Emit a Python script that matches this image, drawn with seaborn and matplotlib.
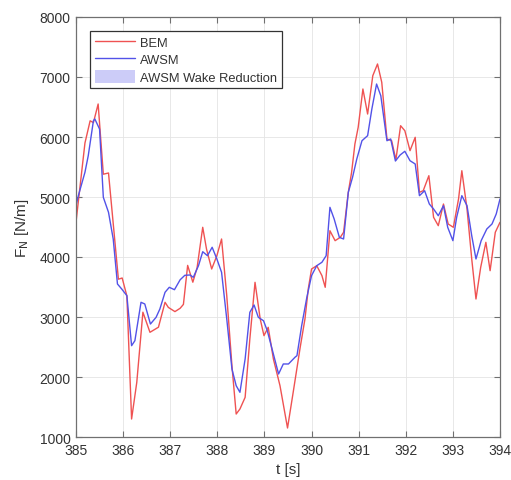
import numpy as np
import pandas as pd
import matplotlib
matplotlib.use("Agg")
import matplotlib.pyplot as plt
from matplotlib.patches import Patch
import seaborn as sns

# Normal force per unit span, BEM model
t_bem = [385.00, 385.19, 385.30, 385.37, 385.47, 385.58, 385.69, 385.90, 385.98, 386.08,
         386.18, 386.29, 386.42, 386.57, 386.75, 386.89, 386.96, 387.10, 387.21, 387.28,
         387.37, 387.48, 387.57, 387.69, 387.77, 387.88, 387.99, 388.09, 388.20, 388.31,
         388.40, 388.48, 388.59, 388.69, 388.80, 388.91, 388.99, 389.08, 389.19, 389.33,
         389.49, 389.61, 389.76, 389.86, 389.93, 390.00, 390.11, 390.22, 390.29, 390.39,
         390.50, 390.61, 390.68, 390.78, 390.85, 390.92, 390.99, 391.09, 391.19, 391.30,
         391.40, 391.49, 391.60, 391.70, 391.79, 391.89, 391.98, 392.09, 392.20, 392.29,
         392.37, 392.49, 392.59, 392.69, 392.80, 392.90, 393.01, 393.12, 393.19, 393.30,
         393.40, 393.49, 393.59, 393.70, 393.79, 393.90, 394.00]
f_bem = [4580, 5900, 6270, 6240, 6550, 5380, 5400, 3630, 3650, 3350,
         1300, 1910, 3080, 2745, 2830, 3245, 3160, 3090, 3145, 3210,
         3860, 3580, 3820, 4495, 4133, 3800, 4022, 4300, 3355, 2188,
         1383, 1467, 1661, 2633, 3578, 2967, 2689, 2828, 2300, 1855,
         1150, 1745, 2500, 2967, 3467, 3800, 3855, 3690, 3495, 4438,
         4272, 4328, 4412, 5078, 5412, 5883, 6162, 6800, 6383, 7022,
         7217, 6912, 5967, 5938, 5620, 6188, 6105, 5772, 5995, 5078,
         5105, 5355, 4662, 4522, 4883, 4550, 4495, 4967, 5438, 4800,
         3967, 3300, 3828, 4245, 3772, 4412, 4578]

# Normal force per unit span, AWSM model
t_awsm = [385.00, 385.05, 385.19, 385.26, 385.37, 385.40, 385.50, 385.58, 385.69, 385.79,
          385.88, 385.97, 386.08, 386.18, 386.25, 386.38, 386.46, 386.58, 386.70, 386.78,
          386.89, 386.98, 387.09, 387.21, 387.31, 387.42, 387.49, 387.60, 387.69, 387.79,
          387.89, 387.99, 388.09, 388.20, 388.31, 388.40, 388.48, 388.59, 388.69, 388.78,
          388.87, 388.98, 389.06, 389.18, 389.30, 389.40, 389.51, 389.65, 389.69, 389.79,
          389.90, 390.00, 390.11, 390.22, 390.31, 390.39, 390.48, 390.59, 390.68, 390.78,
          390.87, 390.96, 391.07, 391.19, 391.28, 391.38, 391.47, 391.60, 391.68, 391.78,
          391.88, 391.98, 392.09, 392.20, 392.29, 392.40, 392.50, 392.59, 392.69, 392.80,
          392.89, 393.00, 393.08, 393.19, 393.30, 393.40, 393.49, 393.60, 393.72, 393.83,
          393.92, 394.00]
f_awsm = [4855, 5022, 5412, 5688, 6272, 6300, 6133, 4995, 4745, 4300,
          3550, 3467, 3355, 2522, 2605, 3245, 3217, 2883, 2995, 3133,
          3412, 3495, 3455, 3620, 3695, 3700, 3662, 3855, 4088, 4022,
          4162, 3967, 3745, 2967, 2133, 1855, 1745, 2300, 3078, 3200,
          2995, 2938, 2772, 2412, 2050, 2217, 2217, 2330, 2355, 2855,
          3328, 3690, 3855, 3912, 4022, 4828, 4633, 4328, 4300, 5078,
          5328, 5633, 5938, 6022, 6467, 6883, 6688, 5938, 5967, 5600,
          5700, 5762, 5605, 5550, 5022, 5105, 4883, 4800, 4688, 4855,
          4495, 4272, 4662, 5022, 4855, 4355, 3967, 4272, 4467, 4550,
          4717, 4967]

x_ticks = [385, 386, 387, 388, 389, 390, 391, 392, 393, 394]
y_ticks = [1000, 2000, 3000, 4000, 5000, 6000, 7000, 8000]

sns.set_theme(style="white")
plt.rcParams["font.family"] = ["Liberation Sans", "DejaVu Sans"]

red = "#ef5252"
blue = "#5252e8"
fill = "#ccccf8"

df_bem = pd.DataFrame({"t": t_bem, "F": f_bem})
df_awsm = pd.DataFrame({"t": t_awsm, "F": f_awsm})

fig = plt.figure(figsize=(5.11, 4.81), dpi=100)
ax = fig.add_axes([76 / 511, 1 - 438 / 481, 424 / 511, 420 / 481])

sns.lineplot(data=df_bem, x="t", y="F", ax=ax, color=red, linewidth=1.0,
             estimator=None, sort=False)
sns.lineplot(data=df_awsm, x="t", y="F", ax=ax, color=blue, linewidth=1.0,
             estimator=None, sort=False)

ax.set_xlim(385, 394)
ax.set_ylim(1000, 8000)
ax.set_xticks(x_ticks)
ax.set_yticks(y_ticks)
ax.set_xticklabels([str(v) for v in x_ticks])
ax.set_yticklabels([str(v) for v in y_ticks])

ax.grid(True, color="#e4e4e4", linewidth=0.6)
ax.set_axisbelow(True)
for s in ax.spines.values():
    s.set_visible(True)
    s.set_color("#707070")
    s.set_linewidth(0.9)
ax.tick_params(axis="both", direction="in", length=4, width=0.8, color="#707070",
               labelsize=10, labelcolor="#333333", top=True, right=True,
               bottom=True, left=True, pad=4)

ax.set_xlabel("t [s]", fontsize=11, color="#333333", labelpad=4)
ax.set_ylabel(r"F$_\mathrm{N}$ [N/m]", fontsize=11, color="#333333", labelpad=6)

handles = [
    plt.Line2D([], [], color=red, linewidth=1.0),
    plt.Line2D([], [], color=blue, linewidth=1.0),
    Patch(facecolor=fill, edgecolor="none"),
]
labels = ["BEM", "AWSM", "AWSM Wake Reduction"]
leg = ax.legend(handles, labels, loc="upper left", bbox_to_anchor=(0.033, 0.967),
                prop={"size": 9.3}, frameon=True, fancybox=False, framealpha=1,
                edgecolor="#333333", handlelength=3.1, handleheight=1.1,
                borderpad=0.35, labelspacing=0.3, handletextpad=0.45,
                borderaxespad=0.0)
leg.get_frame().set_linewidth(0.9)
for txt in leg.get_texts():
    txt.set_color("#333333")

fig.savefig("out.png", dpi=100)
